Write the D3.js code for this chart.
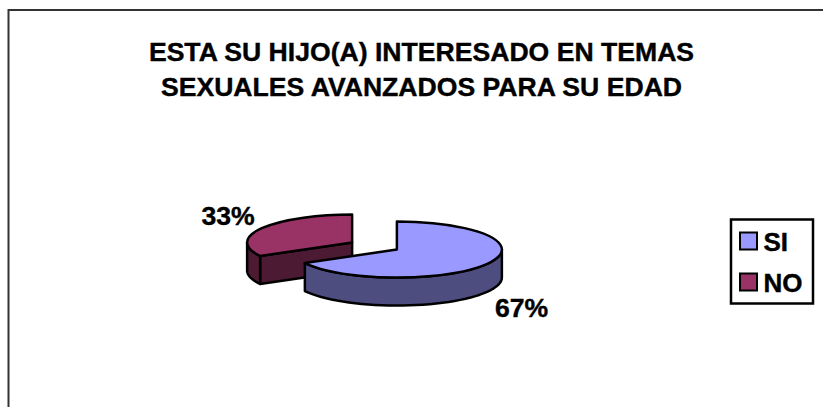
<!DOCTYPE html>
<html>
<head>
<meta charset="utf-8">
<script src="https://cdn.jsdelivr.net/npm/d3@7"></script>
<style>
body{margin:0;background:#fff}
text{font-family:"Liberation Sans",Arial,sans-serif;font-weight:bold;fill:#000;stroke:#000;stroke-width:.4px}
</style>
</head>
<body>
<svg id="chart" width="823" height="407"></svg>
<script>
const categories = ["SI", "NO"]
const values = [67, 33]
const labels = ["67%", "33%"]
const titleLines = ["ESTA SU HIJO(A) INTERESADO EN TEMAS", "SEXUALES AVANZADOS PARA SU EDAD"]
const topColors = ["#9999FF", "#993366"]
const sideColors = ["#4D4D80", "#4D1A33"]

const svg = d3.select("#chart")

// chart frame, cut by the window on the right and at the bottom
svg.append("rect").attr("x", 8.5).attr("y", 10).attr("width", 850).attr("height", 450)
  .attr("fill", "#fff").attr("stroke", "#333").attr("stroke-width", 2)

svg.selectAll(".title").data(titleLines).enter().append("text")
  .attr("class", "title")
  .attr("x", 421.5).attr("y", function(d, i) { return 61 + i * 35 })
  .attr("text-anchor", "middle").style("font-size", "26.6px")
  .text(function(d) { return d })

// pie settings
const cx = 374.5, cy = 246, rx = 105, ry = 28, depth = 28, explode = 26
const slices = d3.pie().sort(null)(values)
const arc = d3.arc().innerRadius(0).outerRadius(rx)

// position on the flattened circle
function pt(a, r, c) {
  return [c[0] + r * Math.sin(a), c[1] - r * (ry / rx) * Math.cos(a)]
}
function center(s) {
  return pt((s.startAngle + s.endAngle) / 2, explode, [cx, cy])
}
// outer wall between two angles
function wall(a0, a1, c) {
  const steps = d3.range(0, 41).map(function(i) { return a0 + (a1 - a0) * i / 40 })
  const top = steps.map(function(a) { return pt(a, rx, c) })
  const bottom = top.map(function(p) { return [p[0], p[1] + depth] }).reverse()
  return d3.line()(top.concat(bottom)) + "Z"
}
function cut(a, c) {
  const p = pt(a, rx, c)
  return d3.line()([c, p, [p[0], p[1] + depth], [c[0], c[1] + depth]]) + "Z"
}

const order = [1, 0] // maroon slice sits behind
order.forEach(function(i) {
  const s = slices[i]
  const c = center(s)
  const g = svg.append("g").attr("stroke", "#000").attr("stroke-width", 2.5).attr("stroke-linejoin", "round")
  if (i == 1) {
    g.append("path").attr("d", cut(s.startAngle, c)).attr("fill", sideColors[i])
    g.append("path").attr("d", wall(s.startAngle, 1.5 * Math.PI, c)).attr("fill", sideColors[i])
  } else {
    g.append("path").attr("d", wall(Math.PI / 2, s.endAngle, c)).attr("fill", sideColors[i])
  }
  g.append("path").attr("d", arc(s))
    .attr("transform", `translate(${c[0]},${c[1]}) scale(1,${ry / rx})`)
    .attr("vector-effect", "non-scaling-stroke")
    .attr("fill", topColors[i])
})

svg.append("text").attr("x", 521.5).attr("y", 317).attr("text-anchor", "middle")
  .style("font-size", "26.6px").text(labels[0])
svg.append("text").attr("x", 228).attr("y", 225).attr("text-anchor", "middle")
  .style("font-size", "26.6px").text(labels[1])

// legend
svg.append("rect").attr("x", 731).attr("y", 219.5).attr("width", 82).attr("height", 84)
  .attr("fill", "#fff").attr("stroke", "#000").attr("stroke-width", 2.5)
const legendY = d3.scalePoint().domain(categories).range([241, 282])
categories.forEach(function(c, i) {
  svg.append("rect").attr("x", 740).attr("y", legendY(c) - 8.5).attr("width", 17).attr("height", 17)
    .attr("fill", topColors[i]).attr("stroke", "#000").attr("stroke-width", 2)
  svg.append("text").attr("x", 763.5).attr("y", legendY(c) + 9.5).style("font-size", "26px").text(c)
})
</script>
</body>
</html>
